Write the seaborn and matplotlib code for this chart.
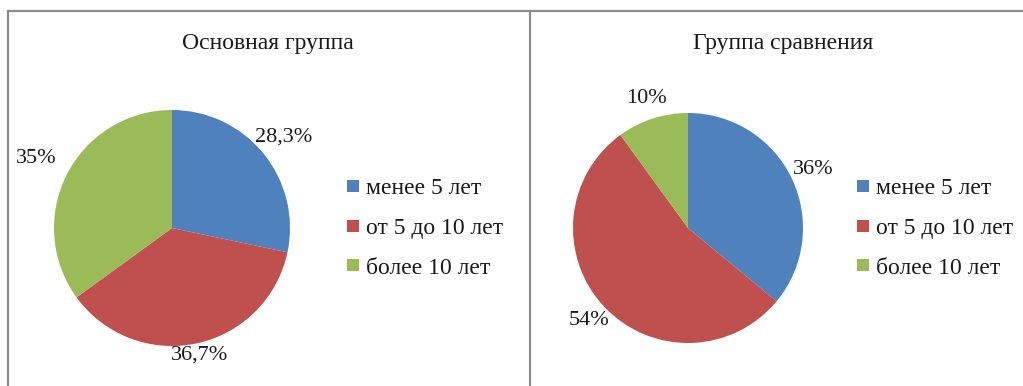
import matplotlib
matplotlib.use("Agg")
import matplotlib.pyplot as plt
from matplotlib.lines import Line2D
import numpy as np
import seaborn as sns

# Experience groups and their shares, %
categories = ["менее 5 лет", "от 5 до 10 лет", "более 10 лет"]
main_group = [28.3, 36.7, 35.0]
main_labels = ["28,3%", "36,7%", "35%"]
comparison_group = [36.0, 54.0, 10.0]
comparison_labels = ["36%", "54%", "10%"]
titles = ["Основная группа", "Группа сравнения"]

sns.set_theme(style="white")
plt.rcParams["font.family"] = ["Liberation Serif", "DejaVu Serif"]

colors = ["#4F81BD", "#C0504D", "#9BBB59"]
W, H = 1023, 386
fig = plt.figure(figsize=(W / 100, H / 100), dpi=100)
fig.patch.set_facecolor("white")


def px_axes(cx, cy, r):
    return fig.add_axes([(cx - r) / W, (H - cy - r) / H, 2 * r / W, 2 * r / H])


def draw_pie(cx, cy, r, values, labels, dists, title, title_x, legend_x):
    ax = px_axes(cx, cy, r)
    wedges, _ = ax.pie(values, colors=colors, startangle=90, counterclock=False,
                       radius=1.0, wedgeprops=dict(linewidth=0))
    ax.set_xlim(-1, 1)
    ax.set_ylim(-1, 1)
    ax.set_aspect("equal")
    ax.axis("off")
    for w, lab, d in zip(wedges, labels, dists):
        ang = np.deg2rad((w.theta1 + w.theta2) / 2)
        ax.text(d * np.cos(ang), d * np.sin(ang), lab, ha="center", va="center",
                fontsize=16, color="#1a1a1a", clip_on=False)
    fig.text(title_x / W, 1 - 43 / H, title, ha="center", va="center",
             fontsize=17, color="#1a1a1a")
    handles = [Line2D([0], [0], marker="s", linestyle="none", markersize=8.5,
                      markerfacecolor=c, markeredgewidth=0) for c in colors]
    fig.legend(handles, categories, loc="center left",
               bbox_to_anchor=(legend_x / W, 1 - 228 / H), frameon=False,
               fontsize=17, handlelength=0.5, handletextpad=0.3,
               labelspacing=0.78, borderpad=0, borderaxespad=0,
               labelcolor="#1a1a1a")


draw_pie(172, 228, 118, main_group, main_labels, [1.22, 1.1, 1.29],
         titles[0], 268, 347)
draw_pie(688, 228, 115, comparison_group, comparison_labels, [1.2, 1.18, 1.18],
         titles[1], 783, 857)

# Panel frame lines
frame = dict(color="#8c8c8c", linewidth=1.6, transform=fig.transFigure)
fig.add_artist(Line2D([7.5 / W, 1], [1 - 11 / H, 1 - 11 / H], **frame))
fig.add_artist(Line2D([7.5 / W, 7.5 / W], [0, 1 - 11 / H], **frame))
fig.add_artist(Line2D([530 / W, 530 / W], [0, 1 - 11 / H], **frame))

fig.savefig("out.png", dpi=100, facecolor="white")
